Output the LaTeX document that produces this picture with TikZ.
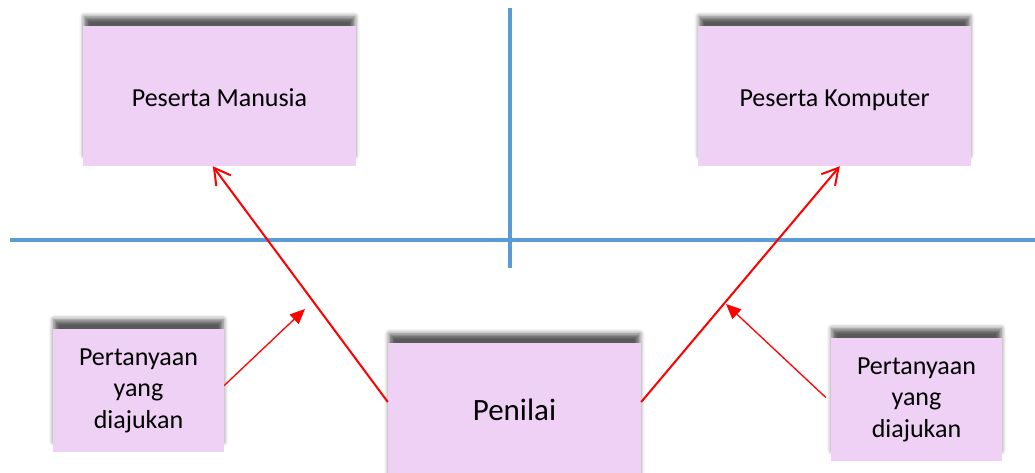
\documentclass[tikz,border=0pt]{standalone}
\usepackage{fontspec}
\setmainfont{Carlito}
\usetikzlibrary{arrows.meta,shadows.blur,calc}
\definecolor{boxfill}{HTML}{EFD1F5}
\definecolor{axisblue}{HTML}{5B9BD5}
\definecolor{arrowred}{HTML}{FF0000}
\tikzset{
  card/.style={draw=none, fill=boxfill, inner sep=0pt, align=center,
    blur shadow={shadow xshift=0pt, shadow yshift=10pt, shadow blur radius=5pt, shadow opacity=65, shadow scale=0.99}},
  axis/.style={draw=axisblue, line width=3.5pt},
  link/.style={draw=arrowred, line width=2pt, -{Straight Barb[length=16pt,width=18pt,line width=2pt]}},
  hint/.style={draw=arrowred, line width=1.3pt, -{Triangle[length=15pt,width=13pt]}},
  label/.style={font=\fontsize{26}{31.5}\selectfont}
}
\begin{document}
\begin{tikzpicture}[x=1pt,y=-1pt]
\useasboundingbox (0,0) rectangle (1035,472);
% quadrant axes
\coordinate (vtop) at (510,8);
\coordinate (vbot) at (510,268);
\coordinate (hl) at (10,240);
\coordinate (hr) at (1035,240);
\draw[axis] (vtop) -- (vbot);
\draw[axis] (hl) -- (hr);
% participants
\node[card, label, text height=20pt, text depth=0pt, minimum width=273pt, minimum height=140pt] (human) at (219.5,96) {Peserta Manusia};
\node[card, label, text height=20pt, text depth=0pt, minimum width=273pt, minimum height=140pt] (comp) at (834.5,96) {Peserta Komputer};
% judge
\node[card, text height=14pt, text depth=0pt, minimum width=253pt, minimum height=140pt, font=\fontsize{31}{37}\selectfont] (judge) at (514.5,413) {Penilai};
% questions
\node[card, label, minimum width=171pt, minimum height=123pt] (qleft) at (138.5,390.5) {Pertanyaan\\yang\\diajukan};
\node[card, label, minimum width=171pt, minimum height=123pt] (qright) at (916.5,399.5) {Pertanyaan\\yang\\diajukan};
% judge to participants
\coordinate (hend) at ($(human.south west)+(130,0)$);
\coordinate (cend) at ($(comp.south west)+(142,0)$);
\draw[link] ($(judge.west)+(0,-11)$) -- (hend);
\draw[link] ($(judge.east)+(0,-11)$) -- (cend);
% questions pointing at the links
\coordinate (ltip) at (305,309);
\coordinate (rtip) at (726,304);
\draw[hint] ($(qleft.east)+(0,-5)$) -- (ltip);
\draw[hint] ($(qright.west)+(-5,-2)$) -- (rtip);
\end{tikzpicture}
\end{document}
